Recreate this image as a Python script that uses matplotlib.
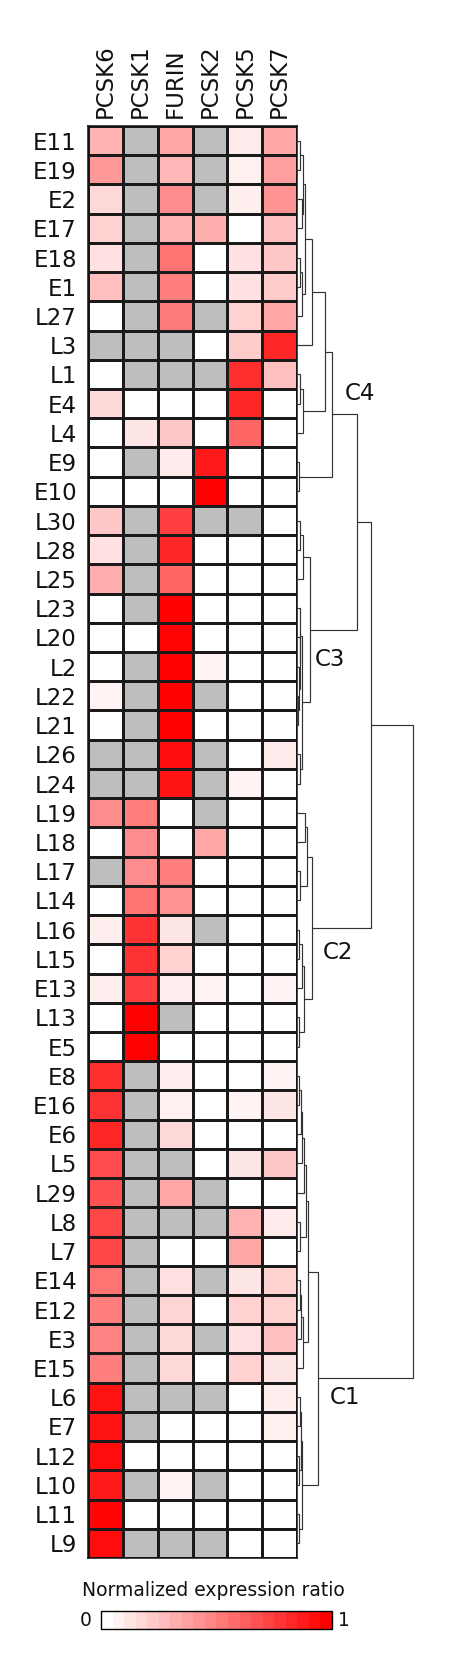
import numpy as np
import matplotlib
matplotlib.use("Agg")
import matplotlib.pyplot as plt
from matplotlib.colors import LinearSegmentedColormap

plt.rcParams['font.family'] = ['DejaVu Sans']

genes = ["PCSK6", "PCSK1", "FURIN", "PCSK2", "PCSK5", "PCSK7"]
samples = ["E11", "E19", "E2", "E17", "E18", "E1", "L27", "L3", "L1", "E4", "L4",
           "E9", "E10", "L30", "L28", "L25", "L23", "L20", "L2", "L22", "L21", "L26",
           "L24", "L19", "L18", "L17", "L14", "L16", "L15", "E13", "L13", "E5", "E8",
           "E16", "E6", "L5", "L29", "L8", "L7", "E14", "E12", "E3", "E15", "L6", "E7",
           "L12", "L10", "L11", "L9"]
nan = np.nan
pcsk6 = [0.30, 0.40, 0.15, 0.18, 0.12, 0.25, 0.0, nan, 0.0, 0.15, 0.0,
         0.0, 0.0, 0.22, 0.12, 0.32, 0.0, 0.0, 0.0, 0.05, 0.0, nan,
         nan, 0.45, 0.0, nan, 0.0, 0.07, 0.0, 0.07, 0.0, 0.0, 0.82,
         0.80, 0.85, 0.70, 0.68, 0.72, 0.72, 0.55, 0.50, 0.48, 0.50, 0.92, 0.92,
         0.95, 0.90, 0.98, 0.95]
pcsk1 = [nan, nan, nan, nan, nan, nan, nan, nan, nan, 0.0, 0.10,
         nan, 0.0, nan, nan, nan, nan, 0.0, nan, nan, nan, nan,
         nan, 0.50, 0.45, 0.45, 0.55, 0.80, 0.80, 0.75, 1.0, 1.0, nan,
         nan, nan, nan, nan, nan, nan, nan, nan, nan, nan, nan, nan,
         0.0, nan, 0.0, nan]
furin = [0.35, 0.28, 0.45, 0.30, 0.55, 0.50, 0.52, nan, nan, 0.0, 0.22,
         0.08, 0.0, 0.75, 0.85, 0.60, 1.0, 0.98, 1.0, 1.0, 1.0, 0.95,
         0.92, 0.0, 0.0, 0.50, 0.42, 0.10, 0.18, 0.07, nan, 0.0, 0.07,
         0.06, 0.15, nan, 0.35, nan, 0.0, 0.12, 0.17, 0.15, 0.15, nan, 0.0,
         0.0, 0.05, 0.0, nan]
pcsk2 = [nan, nan, nan, 0.32, 0.0, 0.0, nan, 0.0, nan, 0.0, 0.0,
         0.90, 1.0, nan, 0.0, 0.0, 0.0, 0.0, 0.05, nan, 0.0, nan,
         nan, nan, 0.35, 0.0, 0.0, nan, 0.0, 0.05, 0.0, 0.0, 0.0,
         0.0, 0.0, 0.0, nan, nan, 0.0, nan, 0.0, nan, 0.0, nan, 0.0,
         0.0, nan, 0.0, nan]
pcsk5 = [0.08, 0.06, 0.07, 0.0, 0.12, 0.12, 0.18, 0.20, 0.82, 0.85, 0.60,
         0.0, 0.0, nan, 0.0, 0.0, 0.0, 0.0, 0.0, 0.0, 0.0, 0.0,
         0.05, 0.0, 0.0, 0.0, 0.0, 0.0, 0.0, 0.0, 0.0, 0.0, 0.0,
         0.05, 0.0, 0.10, 0.0, 0.30, 0.35, 0.10, 0.18, 0.12, 0.18, 0.0, 0.0,
         0.0, 0.0, 0.0, 0.0]
pcsk7 = [0.35, 0.38, 0.42, 0.25, 0.22, 0.20, 0.35, 0.85, 0.25, 0.0, 0.0,
         0.0, 0.0, 0.0, 0.0, 0.0, 0.0, 0.0, 0.0, 0.0, 0.0, 0.08,
         0.0, 0.0, 0.0, 0.0, 0.0, 0.0, 0.0, 0.05, 0.0, 0.0, 0.05,
         0.10, 0.0, 0.22, 0.0, 0.08, 0.0, 0.18, 0.18, 0.25, 0.10, 0.07, 0.06,
         0.0, 0.0, 0.0, 0.0]

# hierarchical clustering merges: (node, left child, right child, linkage distance)
merges = [
    ("m0", "E11", "E19", 3), ("m1", "E2", "E17", 5), ("m2", "m0", "m1", 6),
    ("m3", "E18", "E1", 3), ("m4", "m3", "L27", 5), ("m5", "m2", "m4", 8),
    ("m6", "m5", "L3", 15), ("m7", "L1", "E4", 3), ("m8", "m7", "L4", 6),
    ("m9", "m6", "m8", 28), ("m10", "E9", "E10", 2), ("C4", "m9", "m10", 35),
    ("r1", "L30", "L28", 3), ("r2", "r1", "L25", 6),
    ("s1", "L22", "L21", 1), ("s2", "L2", "s1", 2), ("s3", "L20", "s2", 2.5),
    ("s4", "L23", "s3", 3), ("s5", "L26", "L24", 2.5), ("s6", "s4", "s5", 5),
    ("C3", "r2", "s6", 13), ("N34", "C4", "C3", 60),
    ("c1", "L19", "L18", 8), ("c2", "L17", "L14", 3), ("c3", "c1", "c2", 10),
    ("c4", "L16", "L15", 2), ("c5", "c4", "E13", 5), ("c6", "L13", "E5", 2),
    ("c7", "c5", "c6", 7), ("C2", "c3", "c7", 15), ("NB", "N34", "C2", 74),
    ("e1", "E8", "E16", 2), ("e2", "e1", "E6", 3.5), ("e3", "e2", "L5", 5),
    ("e4", "e3", "L29", 6.5), ("e5", "L8", "L7", 2.5), ("e6", "e4", "e5", 9),
    ("f1", "E14", "E12", 2.5), ("f2", "f1", "E3", 4), ("f3", "f2", "E15", 5.5),
    ("e8", "e6", "f3", 11),
    ("g1", "L6", "E7", 2.5), ("g2", "L12", "L10", 2), ("g3", "g1", "g2", 3.5),
    ("g4", "L11", "L9", 2), ("g5", "g3", "g4", 5), ("C1", "e8", "g5", 21),
    ("root", "NB", "C1", 116),
]
cluster_labels = ["C4", "C3", "C2", "C1"]
cluster_label_pos = [(48, 9.14), (18, 18.27), (26, 28.27), (33, 43.5)]

W, H = 454, 1661
fig = plt.figure(figsize=(W / 100, H / 100), dpi=100)

def fx(px):
    return px / W

def fy(py):
    return 1 - py / H

hm_left, hm_right, hm_top, hm_bot = 88, 297, 126, 1558
ax = fig.add_axes([fx(hm_left), fy(hm_bot), fx(hm_right - hm_left), fy(hm_top) - fy(hm_bot)])

cmap = LinearSegmentedColormap.from_list("wr", ["#ffffff", "#ff0000"])
cmap.set_bad("#bebebe")
data = np.array([pcsk6, pcsk1, furin, pcsk2, pcsk5, pcsk7]).T
masked = np.ma.masked_invalid(data)
ax.pcolormesh(np.arange(len(genes) + 1), np.arange(len(samples) + 1), masked,
              cmap=cmap, vmin=0, vmax=1, edgecolors="#1a1a1a", linewidth=0.8)
ax.set_xlim(0, len(genes))
ax.set_ylim(len(samples), 0)
ax.set_xticks(np.arange(len(genes)) + 0.5)
ax.set_xticklabels(genes, rotation=90, fontsize=16.5, color="#111111")
ax.xaxis.tick_top()
ax.set_yticks(np.arange(len(samples)) + 0.5)
ax.set_yticklabels(samples, fontsize=16.5, color="#111111")
ax.tick_params(length=0, pad=8)
ax.tick_params(axis="x", pad=6)
for sp in ax.spines.values():
    sp.set_linewidth(1.1)
    sp.set_color("#111111")

# dendrogram
dax = fig.add_axes([fx(hm_right), fy(hm_bot), fx(118), fy(hm_top) - fy(hm_bot)])
pos = {s: (i + 0.5, 0.0) for i, s in enumerate(samples)}
for node, a, b, h in merges:
    ya, ha = pos[a]
    yb, hb = pos[b]
    dax.plot([ha, h, h, hb], [ya, ya, yb, yb], color="#333333", lw=0.85,
             solid_joinstyle="miter", solid_capstyle="butt")
    pos[node] = ((ya + yb) / 2, h)
dax.set_xlim(0, 118)
dax.set_ylim(len(samples), 0)
dax.axis("off")
for lab, (xx, yy) in zip(cluster_labels, cluster_label_pos):
    dax.text(xx, yy, lab, fontsize=16.5, ha="left", va="center", color="#111111")

# colorbar
cax = fig.add_axes([fx(101), fy(1629), fx(231), fy(1611) - fy(1629)])
sm = matplotlib.cm.ScalarMappable(cmap=cmap.resampled(20), norm=matplotlib.colors.Normalize(0, 1))
cb = fig.colorbar(sm, cax=cax, orientation="horizontal")
cb.set_ticks([])
cb.outline.set_linewidth(1.0)
fig.text(fx(213), fy(1590), "Normalized expression ratio", ha="center", va="center",
         fontsize=13.5, color="#111111")
fig.text(fx(86), fy(1620), "0", ha="center", va="center", fontsize=13.5, color="#111111")
fig.text(fx(344), fy(1620), "1", ha="center", va="center", fontsize=13.5, color="#111111")

fig.savefig("out.png", dpi=100)
